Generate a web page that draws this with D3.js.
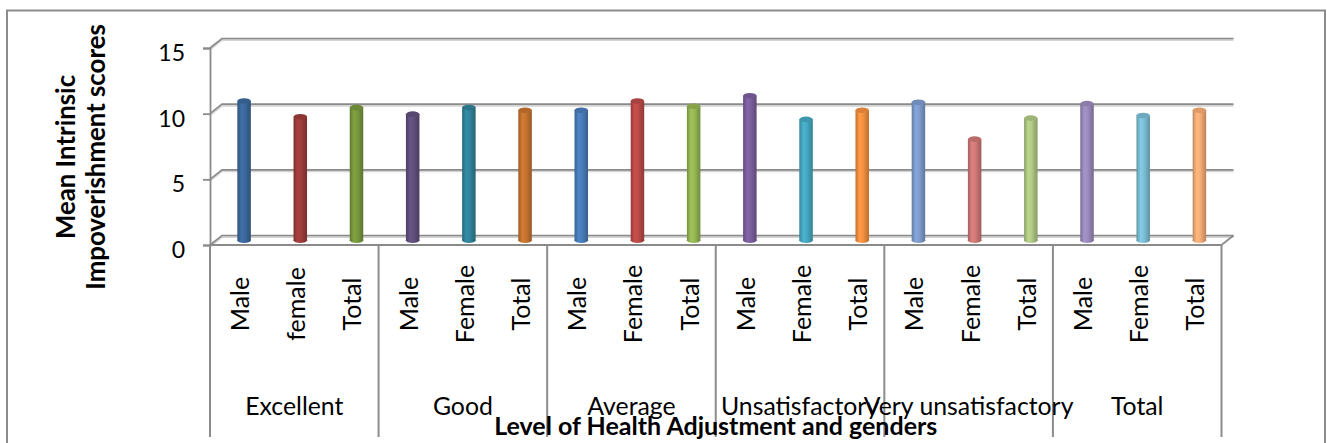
<!DOCTYPE html>
<html>
<head>
<meta charset="utf-8">
<script src="https://cdn.jsdelivr.net/npm/d3@7"></script>
<style>
  html, body { margin: 0; padding: 0; background: #fff; }
  svg { display: block; font-family: Lato, 'Open Sans', sans-serif; }
</style>
</head>
<body>
<div id="chart"></div>
<script>
// datos
const groups = ['Excellent', 'Good', 'Average', 'Unsatisfactory', 'Very unsatisfactory', 'Total']
const subLabels = [
  'Male', 'female', 'Total',
  'Male', 'Female', 'Total',
  'Male', 'Female', 'Total',
  'Male', 'Female', 'Total',
  'Male', 'Female', 'Total',
  'Male', 'Female', 'Total'
]
const scores = [10.6, 9.4, 10.1, 9.6, 10.1, 9.9, 9.9, 10.6, 10.2, 11.0, 9.2, 9.9, 10.5, 7.7, 9.3, 10.4, 9.5, 9.9]
const yTicks = [0, 5, 10, 15]
const yTitle = ['Mean Intrinsic', 'Impoverishment scores']
const xTitle = 'Level of Health Adjustment and genders'

const palette = [
  '#3c6a9f', '#9f3d3b', '#7a9a3e',
  '#62507f', '#31859c', '#c8752f',
  '#4a7ebb', '#be4b48', '#98b954',
  '#7d60a0', '#46aac5', '#f69240',
  '#7f9ed0', '#d27a78', '#b3cc86',
  '#9d8cbf', '#7cc1d8', '#f9ae78'
]

document.addEventListener('DOMContentLoaded', () => {
  const width = 1327
  const height = 443
  const plot = { left: 210, right: 1221.5, top: 48, bottom: 245 }
  const depth = { dx: 12, dy: -9.5 }
  const gridColor = '#8a8a8a'

  const svg = d3.select('#chart')
    .append('svg')
    .attr('width', width)
    .attr('height', height)

  svg.append('rect')
    .attr('width', width)
    .attr('height', height)
    .attr('fill', '#fff')

  // marco exterior
  svg.append('rect')
    .attr('x', 7)
    .attr('y', 10.5)
    .attr('width', 1318)
    .attr('height', 460)
    .attr('fill', 'none')
    .attr('stroke', '#8c8c8c')
    .attr('stroke-width', 2)

  const xScale = d3.scaleBand()
    .domain(d3.range(scores.length))
    .range([plot.left, plot.right])

  const yScale = d3.scaleLinear()
    .domain([0, 15])
    .range([plot.bottom, plot.top])

  // pared del fondo y lineas de division
  const grid = svg.append('g')
  yTicks.forEach(v => {
    const yf = yScale(v)
    const yb = yf + depth.dy
    grid.append('path')
      .attr('d', `M${plot.left},${yf}L${plot.left + depth.dx},${yb}L${plot.right + depth.dx},${yb}`)
      .attr('fill', 'none')
      .attr('stroke', '#d4d4d4')
      .attr('stroke-width', 2)
      .attr('transform', 'translate(0,1.5)')
    grid.append('path')
      .attr('d', `M${plot.left},${yf}L${plot.left + depth.dx},${yb}L${plot.right + depth.dx},${yb}`)
      .attr('fill', 'none')
      .attr('stroke', gridColor)
      .attr('stroke-width', 1.6)
  })

  // suelo
  grid.append('path')
    .attr('d', `M${plot.right},${plot.bottom}L${plot.right + depth.dx},${plot.bottom + depth.dy}`)
    .attr('fill', 'none')
    .attr('stroke', gridColor)
    .attr('stroke-width', 1.6)

  // cilindros
  const defs = svg.append('defs')
  scores.forEach((v, i) => {
    const c = d3.color(palette[i])
    const grad = defs.append('linearGradient')
      .attr('id', `cyl-${i}`)
      .attr('x1', 0).attr('x2', 1).attr('y1', 0).attr('y2', 0)
    grad.append('stop').attr('offset', 0).attr('stop-color', c.darker(0.7))
    grad.append('stop').attr('offset', 0.3).attr('stop-color', c.brighter(0.15))
    grad.append('stop').attr('offset', 0.55).attr('stop-color', c)
    grad.append('stop').attr('offset', 1).attr('stop-color', c.darker(0.8))
  })

  const barW = 13.5
  const ry = 2.8
  const bars = svg.append('g')
    .selectAll('g')
    .data(scores)
    .join('g')

  const cx = (d, i) => xScale(i) + xScale.bandwidth() / 2 + depth.dx / 2
  const baseY = plot.bottom + depth.dy / 2

  bars.append('ellipse')
    .attr('cx', cx)
    .attr('cy', baseY)
    .attr('rx', barW / 2)
    .attr('ry', ry)
    .attr('fill', (d, i) => `url(#cyl-${i})`)

  bars.append('rect')
    .attr('x', (d, i) => cx(d, i) - barW / 2)
    .attr('y', d => yScale(d) + depth.dy / 2)
    .attr('width', barW)
    .attr('height', d => baseY - (yScale(d) + depth.dy / 2))
    .attr('fill', (d, i) => `url(#cyl-${i})`)

  bars.append('ellipse')
    .attr('cx', cx)
    .attr('cy', d => yScale(d) + depth.dy / 2)
    .attr('rx', barW / 2)
    .attr('ry', ry)
    .attr('fill', (d, i) => d3.color(palette[i]).darker(0.35))

  // eje Y
  const yAxis = svg.append('g')
    .attr('transform', `translate(${plot.left},0)`)
    .call(d3.axisLeft(yScale).tickValues(yTicks).tickSize(7).tickPadding(18))

  yAxis.select('.domain')
    .attr('stroke', gridColor)
    .attr('stroke-width', 1.8)
  yAxis.selectAll('.tick line')
    .attr('stroke', gridColor)
    .attr('stroke-width', 1.8)
  yAxis.selectAll('.tick text')
    .attr('dy', '0.55em')
    .attr('fill', '#000')
    .style('font-size', '23px')
    .style('font-family', 'Lato, sans-serif')

  // eje X, linea frontal
  svg.append('line')
    .attr('x1', plot.left)
    .attr('x2', plot.right)
    .attr('y1', plot.bottom)
    .attr('y2', plot.bottom)
    .attr('stroke', gridColor)
    .attr('stroke-width', 1.8)

  const groupSize = subLabels.length / groups.length
  const edges = d3.range(groups.length + 1).map(g =>
    g < groups.length ? xScale(g * groupSize) : plot.right)

  svg.append('g')
    .selectAll('line')
    .data(edges)
    .join('line')
    .attr('x1', d => d)
    .attr('x2', d => d)
    .attr('y1', plot.bottom)
    .attr('y2', 437)
    .attr('stroke', '#8c8c8c')
    .attr('stroke-width', 2)

  // etiquetas de genero
  svg.append('g')
    .selectAll('text')
    .data(subLabels)
    .join('text')
    .attr('transform', (d, i) => `translate(${xScale(i) + xScale.bandwidth() / 2 + 2},304) rotate(-90)`)
    .attr('text-anchor', 'middle')
    .attr('dy', '0.36em')
    .style('font-size', '25px')
    .text(d => d)

  // etiquetas de grupo
  svg.append('g')
    .selectAll('text')
    .data(groups)
    .join('text')
    .attr('x', (d, g) => (edges[g] + edges[g + 1]) / 2)
    .attr('y', 415)
    .attr('text-anchor', 'middle')
    .style('font-size', '24.8px')
    .text(d => d)

  // titulos
  svg.append('text')
    .attr('x', (plot.left + plot.right) / 2)
    .attr('y', 435)
    .attr('text-anchor', 'middle')
    .style('font-size', '25px')
    .style('font-weight', 'bold')
    .text(xTitle)

  svg.append('g')
    .selectAll('text')
    .data(yTitle)
    .join('text')
    .attr('transform', (d, i) => `translate(${75 + i * 30},157) rotate(-90)`)
    .attr('text-anchor', 'middle')
    .style('font-size', '25.8px')
    .style('font-weight', 'bold')
    .text(d => d)
})
</script>
</body>
</html>
